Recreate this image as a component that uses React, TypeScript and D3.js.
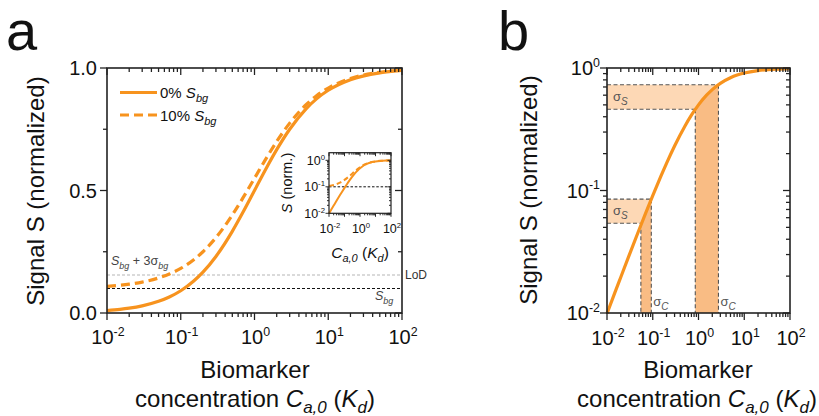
import React from "react";
import * as d3 from "d3";

// ---------- data ----------
const concentration = [0.01, 0.015, 0.02, 0.03, 0.05, 0.07, 0.1, 0.15, 0.2, 0.3, 0.5, 0.7, 1, 1.5, 2, 3, 5, 7, 10, 20, 50, 100];
const signalNoBg = [0.0099, 0.0148, 0.0196, 0.0291, 0.0476, 0.0654, 0.0909, 0.1304, 0.1667, 0.2308, 0.3333, 0.4118, 0.5, 0.6, 0.6667, 0.75, 0.8333, 0.875, 0.9091, 0.9524, 0.9804, 0.9901];
const signalWithBg = [0.1089, 0.1133, 0.1176, 0.1262, 0.1429, 0.1589, 0.1818, 0.2174, 0.25, 0.3077, 0.4, 0.4706, 0.55, 0.64, 0.7, 0.775, 0.85, 0.8875, 0.9182, 0.9571, 0.9824, 0.9911];
const backgroundLevel = 0.1;
const lodLevel = 0.155;
const linTicksMajor = [0, 0.5, 1];
const linTicksMinor = [0.25, 0.75];
const linTickLabels = ["0.0", "0.5", "1.0"];
// sigma bands in panel b
const bandCLo = [0.055, 0.85];
const bandCHi = [0.093, 2.73];
const bandSLo = [0.054, 0.46];
const bandSHi = [0.085, 0.73];

const ORANGE = "#f7931e";
const AXIS = "#222";
const FONT = "'Liberation Sans', Arial, Helvetica, sans-serif";

function logTicks(lo: number, hi: number) {
  const majors: number[] = [];
  const minors: number[] = [];
  for (let e = Math.round(Math.log10(lo)); e <= Math.round(Math.log10(hi)); e++) {
    const b = Math.pow(10, e);
    if (b >= lo * 0.999 && b <= hi * 1.001) majors.push(b);
    for (let k = 2; k <= 9; k++) {
      const v = k * b;
      if (v >= lo * 0.999 && v <= hi * 1.001) minors.push(v);
    }
  }
  return { majors, minors };
}

function Pow10({ x, y, exp, size, anchor = "middle" }: any) {
  return (
    <text x={x} y={y} fontSize={size} textAnchor={anchor} fontFamily={FONT} fill="#111">
      10
      <tspan dy={-size * 0.42} fontSize={size * 0.62}>{exp}</tspan>
    </text>
  );
}

function Frame({ x0, x1, y0, y1, xMaj, xMin, yMaj, yMin, xs, ys, maj, min, sw }: any) {
  const lines: any[] = [];
  xMaj.forEach((v: number, i: number) => {
    const x = xs(v);
    lines.push(<line key={"bM" + i} x1={x} x2={x} y1={y0} y2={y0 + maj} />);
    lines.push(<line key={"tM" + i} x1={x} x2={x} y1={y1} y2={y1 + maj} />);
  });
  xMin.forEach((v: number, i: number) => {
    const x = xs(v);
    lines.push(<line key={"bm" + i} x1={x} x2={x} y1={y0} y2={y0 + min} />);
    lines.push(<line key={"tm" + i} x1={x} x2={x} y1={y1} y2={y1 + min} />);
  });
  yMaj.forEach((v: number, i: number) => {
    const y = ys(v);
    lines.push(<line key={"lM" + i} x1={x0} x2={x0 - maj} y1={y} y2={y} />);
    lines.push(<line key={"rM" + i} x1={x1} x2={x1 - maj} y1={y} y2={y} />);
  });
  yMin.forEach((v: number, i: number) => {
    const y = ys(v);
    lines.push(<line key={"lm" + i} x1={x0} x2={x0 - min} y1={y} y2={y} />);
    lines.push(<line key={"rm" + i} x1={x1} x2={x1 - min} y1={y} y2={y} />);
  });
  return (
    <g stroke={AXIS} strokeWidth={sw * 0.8} fill="none">
      {lines}
      <rect x={x0} y={y1} width={x1 - x0} height={y0 - y1} strokeWidth={sw} />
    </g>
  );
}

const pts = (ys: number[]) => concentration.map((c, i) => [c, ys[i]] as [number, number]);

export default function App() {
  // ---------- panel a ----------
  const ax = d3.scaleLog().domain([0.01, 100]).range([107, 402]);
  const ay = d3.scaleLinear().domain([0, 1]).range([313, 68]);
  const aLine = d3.line<[number, number]>().x((d) => ax(d[0])).y((d) => ay(d[1])).curve(d3.curveMonotoneX);
  const xt = logTicks(0.01, 100);

  // ---------- inset ----------
  const ix = d3.scaleLog().domain([0.01, 100]).range([329, 391]);
  const iy = d3.scaleLog().domain([0.01, 1.94]).range([213.3, 152.7]);
  const iLine = d3.line<[number, number]>().x((d) => ix(d[0])).y((d) => iy(d[1])).curve(d3.curveMonotoneX);
  const iyt = logTicks(0.01, 1.94);

  // ---------- panel b ----------
  const bx = d3.scaleLog().domain([0.01, 100]).range([607, 790]);
  const by = d3.scaleLog().domain([0.01, 1]).range([313, 68]);
  const bLine = d3.line<[number, number]>().x((d) => bx(d[0])).y((d) => by(d[1])).curve(d3.curveMonotoneX);
  const byt = logTicks(0.01, 1);
  const underCurve = bLine(pts(signalNoBg)) + `L${bx(100)},${by(0.01)}L${bx(0.01)},${by(0.01)}Z`;

  const expLabels = ["-2", "-1", "0", "1", "2"];

  return (
    <svg width={819} height={416} style={{ position: "absolute", left: 0, top: 0, background: "#fff" }} fontFamily={FONT}>
      <defs>
        <clipPath id="under">
          <path d={underCurve} />
        </clipPath>
      </defs>

      {/* panel letters */}
      <text x={6} y={50} fontSize={56} fill="#111">a</text>
      <text x={498} y={50} fontSize={56} fill="#111">b</text>

      {/* ===== Panel a ===== */}
      <line x1={107} x2={402} y1={ay(lodLevel)} y2={ay(lodLevel)} stroke="#b5b5b5" strokeWidth={1.1} strokeDasharray="3,2" />
      <line x1={107} x2={402} y1={ay(backgroundLevel)} y2={ay(backgroundLevel)} stroke="#111" strokeWidth={1.1} strokeDasharray="3,2" />
      <path d={aLine(pts(signalWithBg)) as string} fill="none" stroke={ORANGE} strokeWidth={3.2} strokeDasharray="9,5" />
      <path d={aLine(pts(signalNoBg)) as string} fill="none" stroke={ORANGE} strokeWidth={3.2} />
      <Frame x0={107} x1={402} y0={313} y1={68} xMaj={xt.majors} xMin={xt.minors} yMaj={linTicksMajor} yMin={linTicksMinor} xs={ax} ys={ay} maj={7} min={4} sw={1.6} />
      {linTickLabels.map((t, i) => (
        <text key={t} x={97} y={ay(linTicksMajor[i]) + 7} fontSize={20} textAnchor="end" fill="#111">{t}</text>
      ))}
      {xt.majors.map((v, i) => (
        <Pow10 key={i} x={ax(v) + 1} y={344} exp={expLabels[i]} size={20} />
      ))}
      <text transform="translate(43.5,191) rotate(-90)" fontSize={24} textAnchor="middle" fill="#111">Signal S (normalized)</text>
      <text x={255} y={378} fontSize={24} textAnchor="middle" fill="#111">Biomarker</text>
      <text x={255} y={407} fontSize={24} textAnchor="middle" fill="#111">
        concentration <tspan fontStyle="italic">C</tspan>
        <tspan dy={6} fontSize={17} fontStyle="italic">a,0</tspan>
        <tspan dy={-6}> (</tspan>
        <tspan fontStyle="italic">K</tspan>
        <tspan dy={6} fontSize={17} fontStyle="italic">d</tspan>
        <tspan dy={-6}>)</tspan>
      </text>

      {/* legend */}
      <line x1={120} x2={157} y1={92.5} y2={92.5} stroke={ORANGE} strokeWidth={3.2} />
      <line x1={120} x2={157} y1={115} y2={115} stroke={ORANGE} strokeWidth={3.2} strokeDasharray="9,5" />
      <text x={160} y={98} fontSize={15} fill="#111">
        0% <tspan fontStyle="italic">S</tspan>
        <tspan dy={4} fontSize={11} fontStyle="italic">bg</tspan>
      </text>
      <text x={160} y={120.5} fontSize={15} fill="#111">
        10% <tspan fontStyle="italic">S</tspan>
        <tspan dy={4} fontSize={11} fontStyle="italic">bg</tspan>
      </text>

      {/* annotations */}
      <text x={111} y={265} fontSize={12.5} fill="#444">
        <tspan fontStyle="italic">S</tspan>
        <tspan dy={3.5} fontSize={9} fontStyle="italic">bg</tspan>
        <tspan dy={-3.5}> + 3σ</tspan>
        <tspan dy={3.5} fontSize={9} fontStyle="italic">bg</tspan>
      </text>
      <text x={405} y={279} fontSize={12} fill="#333">LoD</text>
      <text x={375} y={300} fontSize={12.5} fill="#444">
        <tspan fontStyle="italic">S</tspan>
        <tspan dy={3.5} fontSize={9} fontStyle="italic">bg</tspan>
      </text>

      {/* inset */}
      <rect x={329} y={152.7} width={62} height={60.6} fill="#fff" />
      <line x1={329} x2={391} y1={iy(backgroundLevel)} y2={iy(backgroundLevel)} stroke="#111" strokeWidth={1} strokeDasharray="2.5,1.8" />
      <path d={iLine(pts(signalWithBg)) as string} fill="none" stroke={ORANGE} strokeWidth={2} strokeDasharray="5,3" />
      <path d={iLine(pts(signalNoBg)) as string} fill="none" stroke={ORANGE} strokeWidth={2} />
      <Frame x0={329} x1={391} y0={213.3} y1={152.7} xMaj={xt.majors} xMin={xt.minors} yMaj={iyt.majors} yMin={iyt.minors} xs={ix} ys={iy} maj={3.5} min={2} sw={1.2} />
      {iyt.majors.map((v, i) => (
        <Pow10 key={i} x={325} y={iy(v) + 4.5} exp={["-2", "-1", "0"][i]} size={12.5} anchor="end" />
      ))}
      {[0.01, 1, 100].map((v, i) => (
        <Pow10 key={i} x={ix(v) + 1} y={233} exp={["-2", "0", "2"][i]} size={12.5} />
      ))}
      <text transform="translate(292,183) rotate(-90)" fontSize={14.5} textAnchor="middle" fill="#111">
        <tspan fontStyle="italic">S</tspan> (norm.)
      </text>
      <text x={360} y={258} fontSize={15.5} textAnchor="middle" fill="#111">
        <tspan fontStyle="italic">C</tspan>
        <tspan dy={4} fontSize={11} fontStyle="italic">a,0</tspan>
        <tspan dy={-4}> (</tspan>
        <tspan fontStyle="italic">K</tspan>
        <tspan dy={4} fontSize={11} fontStyle="italic">d</tspan>
        <tspan dy={-4}>)</tspan>
      </text>

      {/* ===== Panel b ===== */}
      {bandCLo.map((_, i) => (
        <g key={"band" + i}>
          <rect x={bx(0.01)} y={by(bandSHi[i])} width={bx(bandCHi[i]) - bx(0.01)} height={by(bandSLo[i]) - by(bandSHi[i])} fill="#fdd8b5" />
          <rect x={bx(bandCLo[i])} y={by(bandSHi[i]) - 2} width={bx(bandCHi[i]) - bx(bandCLo[i])} height={by(0.01) - by(bandSHi[i]) + 2} fill="#f9bc84" clipPath="url(#under)" />
          <g stroke="#555" strokeWidth={1.1} strokeDasharray="4,2.5" fill="none">
            <line x1={bx(0.01)} x2={bx(bandCHi[i])} y1={by(bandSHi[i])} y2={by(bandSHi[i])} />
            <line x1={bx(0.01)} x2={bx(bandCLo[i])} y1={by(bandSLo[i])} y2={by(bandSLo[i])} />
            <line x1={bx(bandCLo[i])} x2={bx(bandCLo[i])} y1={by(bandSLo[i])} y2={by(0.01)} />
            <line x1={bx(bandCHi[i])} x2={bx(bandCHi[i])} y1={by(bandSHi[i])} y2={by(0.01)} />
          </g>
          <text x={613} y={(by(bandSHi[i]) + by(bandSLo[i])) / 2 + 4} fontSize={13} fill="#555">
            σ<tspan dy={3.5} fontSize={10} fontStyle="italic">S</tspan>
          </text>
          <text x={bx(bandCHi[i]) + 2} y={306} fontSize={13} fill="#555">
            σ<tspan dy={3.5} fontSize={10} fontStyle="italic">C</tspan>
          </text>
        </g>
      ))}
      <path d={bLine(pts(signalNoBg)) as string} fill="none" stroke={ORANGE} strokeWidth={3.2} />
      <Frame x0={607} x1={790} y0={313} y1={68} xMaj={xt.majors} xMin={xt.minors} yMaj={byt.majors} yMin={byt.minors} xs={bx} ys={by} maj={7} min={4} sw={1.6} />
      {byt.majors.map((v, i) => (
        <Pow10 key={i} x={600} y={by(v) + 7} exp={["-2", "-1", "0"][i]} size={20} anchor="end" />
      ))}
      {xt.majors.map((v, i) => (
        <Pow10 key={i} x={bx(v) + 1} y={345} exp={expLabels[i]} size={20} />
      ))}
      <text transform="translate(537,190) rotate(-90)" fontSize={24} textAnchor="middle" fill="#111">Signal S (normalized)</text>
      <text x={698} y={378} fontSize={24} textAnchor="middle" fill="#111">Biomarker</text>
      <text x={697} y={407} fontSize={24} textAnchor="middle" fill="#111">
        concentration <tspan fontStyle="italic">C</tspan>
        <tspan dy={6} fontSize={17} fontStyle="italic">a,0</tspan>
        <tspan dy={-6}> (</tspan>
        <tspan fontStyle="italic">K</tspan>
        <tspan dy={6} fontSize={17} fontStyle="italic">d</tspan>
        <tspan dy={-6}>)</tspan>
      </text>
    </svg>
  );
}
